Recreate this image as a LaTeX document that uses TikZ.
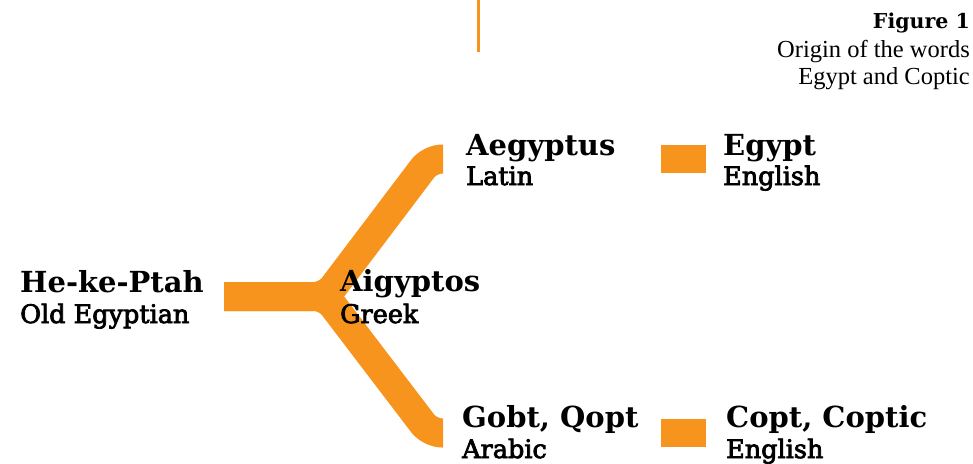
\documentclass[tikz,border=0pt]{standalone}
\usepackage{fontspec}
\newfontfamily\capfont{Liberation Serif}
\newfontfamily\slabfont{DejaVu Serif}
\newfontfamily\langfont[FakeBold=3]{DejaVu Serif}
\definecolor{eorange}{RGB}{247,148,30}
\begin{document}
\begin{tikzpicture}[x=1pt,y=-1pt,
  word/.style={anchor=base west, inner sep=0pt, font=\slabfont\bfseries\fontsize{29}{34}\selectfont},
  lang/.style={anchor=base west, inner sep=0pt, font=\langfont\fontsize{25.5}{30}\selectfont},
  branch/.style={draw=eorange, line width=29pt, rounded corners=12pt, line cap=butt, line join=round},
  sq/.style={fill=eorange, minimum width=45pt, minimum height=28pt, inner sep=0pt, draw=none}]
\useasboundingbox (0,0) rectangle (973,463);
% top rule
\coordinate (r1) at (478,0);
\coordinate (r2) at (478,52);
\draw[eorange, line width=3pt] (r1) -- (r2);
% caption
\node[anchor=base east, inner sep=0pt, font=\slabfont\bfseries\fontsize{20.5}{24}\selectfont] (fig) at (970,28) {Figure 1};
\node[anchor=base east, inner sep=0pt, font=\capfont\fontsize{24.5}{27}\selectfont] (cap1) at (970,57) {Origin of the words};
\node[anchor=base east, inner sep=0pt, font=\capfont\fontsize{24.5}{27}\selectfont] (cap2) at (970,84) {Egypt and Coptic};
% branches
\coordinate (t0) at (224,296.5);
\coordinate (tj) at (326,296.5);
\coordinate (ua) at (430,159);
\coordinate (ub) at (443,159);
\coordinate (da) at (430,433);
\coordinate (db) at (443,433);
\draw[branch] (t0) -- (tj) -- (ua) -- (ub);
\draw[branch] (t0) -- (tj) -- (da) -- (db);
% squares
\node[sq] (sqA) at (683.5,159) {};
\node[sq] (sqB) at (683.5,433) {};
% words
\node[word] (he) at (20,292) {He-ke-Ptah};
\node[lang] (heL) at (20,323) {Old Egyptian};
\node[word] (ai) at (340,291) {Aigyptos};
\node[lang] (aiL) at (340,323) {Greek};
\node[word] (ae) at (466,155) {Aegyptus};
\node[lang] (aeL) at (466,185) {Latin};
\node[word] (eg) at (723,155) {Egypt};
\node[lang] (egL) at (723,185) {English};
\node[word] (go) at (462,427) {Gobt, Qopt};
\node[lang] (goL) at (462,458) {Arabic};
\node[word] (co) at (726,427) {Copt, Coptic};
\node[lang] (coL) at (726,458) {English};
\end{tikzpicture}
\end{document}
